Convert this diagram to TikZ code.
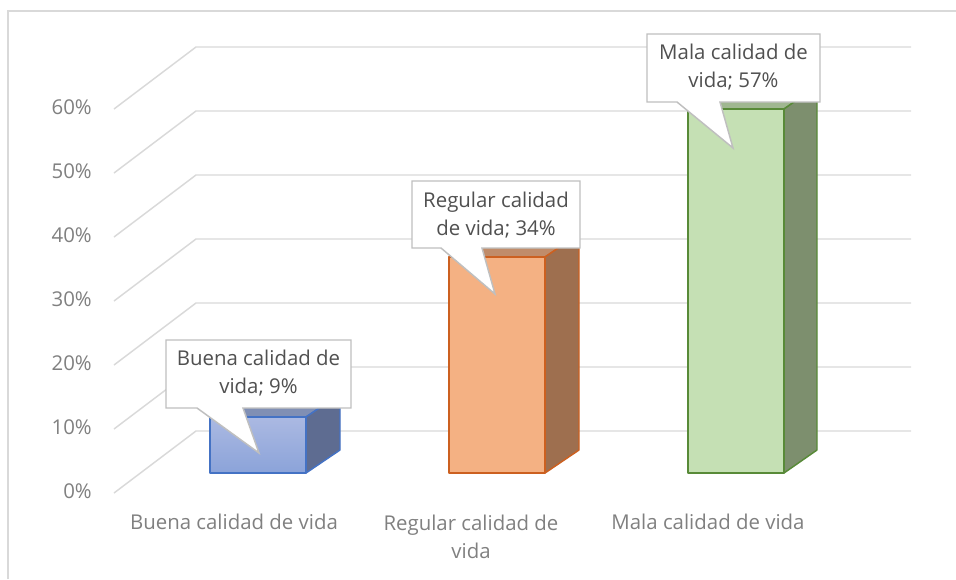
\documentclass[tikz,border=0pt]{standalone}
\usepackage{fontspec}
\setmainfont{Open Sans}
\usepackage{tikz}

\definecolor{gridgray}{RGB}{217,217,217}
\definecolor{ticktext}{RGB}{128,128,128}
\definecolor{calltext}{RGB}{80,80,80}
\definecolor{callborder}{RGB}{191,191,191}
\definecolor{buenaline}{RGB}{68,114,196}
\definecolor{buenatop}{RGB}{171,185,226}
\definecolor{buenabot}{RGB}{139,163,217}
\definecolor{buenaside}{RGB}{94,108,145}
\definecolor{buenalid}{RGB}{128,143,180}
\definecolor{regularline}{RGB}{204,96,32}
\definecolor{regularfront}{RGB}{244,177,131}
\definecolor{regularside}{RGB}{158,111,79}
\definecolor{regularlid}{RGB}{192,140,106}
\definecolor{malaline}{RGB}{88,138,56}
\definecolor{malafront}{RGB}{197,224,180}
\definecolor{malaside}{RGB}{125,143,110}
\definecolor{malalid}{RGB}{160,183,145}

\begin{document}
\begin{tikzpicture}[x=0.75pt,y=0.75pt,yscale=-1,xscale=1,
  gridline/.style={color=gridgray, line width=1.1pt},
  ticklabel/.style={anchor=east, inner sep=0pt, text=ticktext, font=\fontsize{15.3}{21.5}\selectfont},
  catlabel/.style={align=center, inner sep=0pt, text=ticktext, font=\fontsize{15.3}{21.5}\selectfont},
  callout/.style={draw=callborder, fill=white, line width=1.1pt, line join=miter},
  callouttext/.style={align=center, inner sep=0pt, text=calltext, font=\fontsize{15.3}{21.5}\selectfont},
  barline/.style={line width=1.1pt, line join=round}]
\useasboundingbox (0,0) rectangle (956,579);

%Chart frame
\draw [color=gridgray, line width=0.9pt]  (8,579) -- (8,11) -- (956,11) ;

%Straight Lines (grid 0%)
\draw [gridline]  (114,493) -- (196,431) -- (911,431) ;
%Straight Lines (grid 10%)
\draw [gridline]  (114,429) -- (196,367) -- (911,367) ;
%Straight Lines (grid 20%)
\draw [gridline]  (114,365) -- (196,303) -- (911,303) ;
%Straight Lines (grid 30%)
\draw [gridline]  (114,301) -- (196,239) -- (911,239) ;
%Straight Lines (grid 40%)
\draw [gridline]  (114,237) -- (196,175) -- (911,175) ;
%Straight Lines (grid 50%)
\draw [gridline]  (114,173) -- (196,111) -- (911,111) ;
%Straight Lines (grid 60%)
\draw [gridline]  (114,109) -- (196,47) -- (911,47) ;

% Text Node
\node [ticklabel] (t0) at (92,491) {0\%};
\node [ticklabel] (t10) at (92,427) {10\%};
\node [ticklabel] (t20) at (92,363) {20\%};
\node [ticklabel] (t30) at (92,299) {30\%};
\node [ticklabel] (t40) at (92,235) {40\%};
\node [ticklabel] (t50) at (92,171) {50\%};
\node [ticklabel] (t60) at (92,107) {60\%};

%Bar Buena
\draw [barline, draw=buenaline, fill=buenalid]  (210,417) -- (244,394) -- (340,394) -- (306,417) -- cycle ;
\draw [barline, draw=buenaline, fill=buenaside]  (306,473) -- (340,450) -- (340,394) -- (306,417) -- cycle ;
\draw [barline, draw=buenaline, top color=buenatop, bottom color=buenabot]  (210,417) rectangle (306,473) ;
%Bar Regular
\draw [barline, draw=regularline, fill=regularlid]  (449,257) -- (483,234) -- (579,234) -- (545,257) -- cycle ;
\draw [barline, draw=regularline, fill=regularside]  (545,473) -- (579,450) -- (579,234) -- (545,257) -- cycle ;
\draw [barline, draw=regularline, fill=regularfront]  (449,257) rectangle (545,473) ;
%Bar Mala
\draw [barline, draw=malaline, fill=malalid]  (688,109) -- (722,86) -- (817,86) -- (784,109) -- cycle ;
\draw [barline, draw=malaline, fill=malaside]  (784,473) -- (817,450) -- (817,86) -- (784,109) -- cycle ;
\draw [barline, draw=malaline, fill=malafront]  (688,109) rectangle (784,473) ;

% Text Node
\node [catlabel] (cbuena) at (234,522) {Buena calidad de vida};
% Text Node
\node [catlabel] (cregular) at (471,537) {Regular calidad de\\vida};
% Text Node
\node [catlabel] (cmala) at (708,522) {Mala calidad de vida};

%Callout Buena
\draw [callout]  (166,340) -- (351,340) -- (351,408) -- (243,408) -- (259,453) -- (197,408) -- (166,408) -- cycle ;
\node [callouttext] (lbuena) at (258.5,373) {Buena calidad de\\vida; 9\%};
%Callout Regular
\draw [callout]  (412,181) -- (580,181) -- (580,248) -- (482,248) -- (495,294) -- (441,248) -- (412,248) -- cycle ;
\node [callouttext] (lregular) at (496,215) {Regular calidad\\de vida; 34\%};
%Callout Mala
\draw [callout]  (647,34) -- (820,34) -- (820,102) -- (720,102) -- (733,148) -- (677,102) -- (647,102) -- cycle ;
\node [callouttext] (lmala) at (733.5,67) {Mala calidad de\\vida; 57\%};

\end{tikzpicture}
\end{document}
